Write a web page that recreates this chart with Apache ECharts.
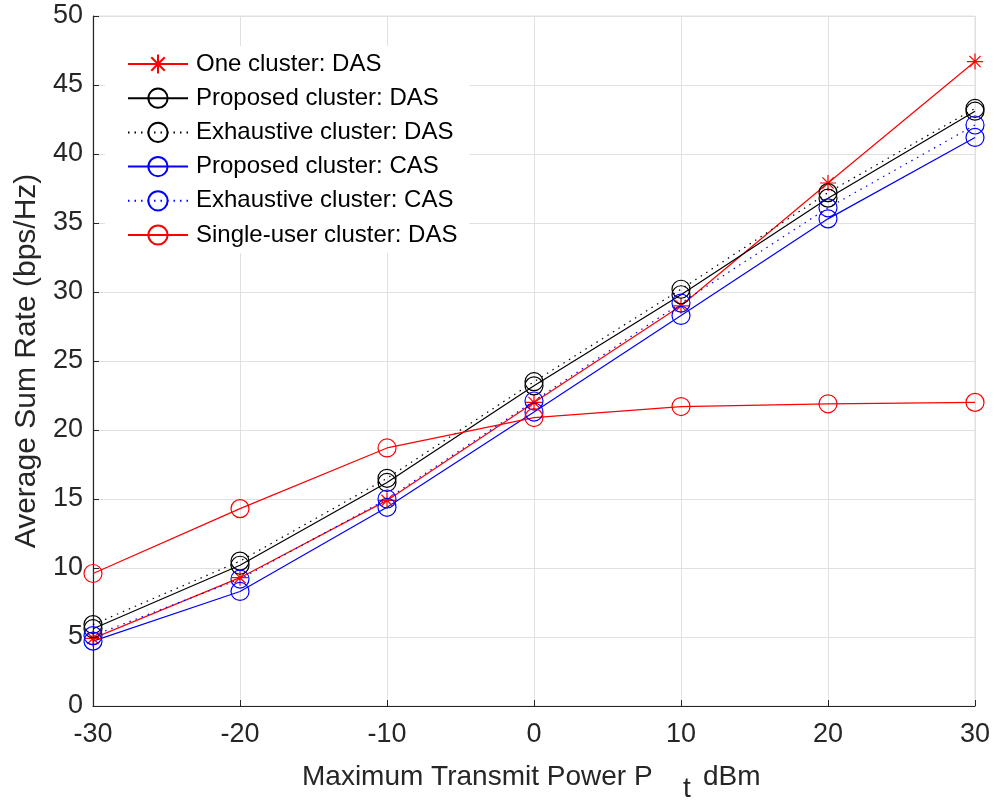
<!DOCTYPE html>
<html>
<head>
<meta charset="utf-8">
<script src="https://cdn.jsdelivr.net/npm/echarts@6/dist/echarts.min.js"></script>
<style>
html,body{margin:0;padding:0;background:#fff;}
#chart{width:994px;height:802px;}
</style>
</head>
<body>
<div id="chart"></div>
<script>
// ---- data ----
var powerDbm = [-30, -20, -10, 0, 10, 20, 30];
var oneClusterDAS = [4.9, 9.3, 14.9, 22.0, 29.0, 37.9, 46.7];
var proposedDAS = [5.6, 10.2, 16.2, 23.2, 29.8, 36.8, 43.1];
var exhaustiveDAS = [5.9, 10.5, 16.5, 23.5, 30.2, 37.2, 43.3];
var proposedCAS = [4.7, 8.3, 14.4, 21.3, 28.3, 35.3, 41.2];
var exhaustiveCAS = [5.1, 9.2, 15.0, 22.1, 29.2, 36.1, 42.1];
var singleUserDAS = [9.6, 14.3, 18.7, 20.9, 21.7, 21.9, 22.0];
var seriesNames = ['One cluster: DAS', 'Proposed cluster: DAS', 'Exhaustive cluster: DAS',
                   'Proposed cluster: CAS', 'Exhaustive cluster: CAS', 'Single-user cluster: DAS'];
var yTicks = [0, 5, 10, 15, 20, 25, 30, 35, 40, 45, 50];
var xTicks = [-30, -20, -10, 0, 10, 20, 30];

// ---- styling ----
var FONT = '"Liberation Sans", Arial, Helvetica, sans-serif';
var TXT = '#262626';
var STAR = 'path://M10,0L10,20M0,10L20,10M3,3L17,17M3,17L17,3';

function pairs(vals) {
  return powerDbm.map(function (x, i) { return [x, vals[i]]; });
}
function mk(name, vals, color, symbol, dashed, size) {
  return {
    name: name,
    type: 'line',
    data: pairs(vals),
    symbol: symbol,
    symbolSize: size,
    showAllSymbol: true,
    lineStyle: { color: color, width: 1.2, type: dashed ? [1.5, 5] : 'solid' },
    itemStyle: { color: 'rgba(0,0,0,0)', borderColor: color, borderWidth: 1.2 },
    emphasis: { disabled: true },
    z: 3
  };
}

var chart = echarts.init(document.getElementById('chart'), null, { renderer: 'canvas' });
chart.setOption({
  animation: false,
  backgroundColor: '#ffffff',
  textStyle: { fontFamily: FONT },
  grid: {
    left: 93, right: 19, top: 16, bottom: 96,
    show: true, borderColor: '#e0e0e0', borderWidth: 1, backgroundColor: 'transparent'
  },
  xAxis: {
    type: 'value',
    min: xTicks[0], max: xTicks[xTicks.length - 1], interval: 10,
    axisLine: { show: true, onZero: false, lineStyle: { color: TXT, width: 1.2 } },
    axisTick: { show: true, inside: true, length: 6, lineStyle: { color: TXT } },
    axisLabel: { color: TXT, fontSize: 27, fontFamily: FONT, margin: 15 },
    splitLine: { show: true, lineStyle: { color: '#e0e0e0', width: 1 } }
  },
  yAxis: {
    type: 'value',
    min: yTicks[0], max: yTicks[yTicks.length - 1], interval: 5,
    axisLine: { show: true, onZero: false, lineStyle: { color: TXT, width: 1.2 } },
    axisTick: { show: true, inside: true, length: 6, lineStyle: { color: TXT } },
    axisLabel: { color: TXT, fontSize: 27, fontFamily: FONT, margin: 10 },
    splitLine: { show: true, lineStyle: { color: '#e0e0e0', width: 1 } }
  },
  legend: {
    orient: 'vertical',
    left: 105, top: 46,
    padding: [6, 12, 6, 22],
    backgroundColor: '#ffffff',
    itemWidth: 60, itemHeight: 24, itemGap: 10.2,
    textStyle: { color: '#000', fontSize: 24, fontFamily: FONT, padding: [0, 0, 0, 3] },
    data: seriesNames,
    selectedMode: false,
    z: 10
  },
  graphic: [
    { type: 'text', x: 302, y: 777, z: 10,
      style: { text: 'Maximum Transmit Power P', fontSize: 28, fontFamily: FONT, fill: TXT, verticalAlign: 'middle' } },
    { type: 'text', x: 683, y: 789, z: 10,
      style: { text: 't', fontSize: 28, fontFamily: FONT, fill: TXT, verticalAlign: 'middle' } },
    { type: 'text', x: 703, y: 777, z: 10,
      style: { text: 'dBm', fontSize: 28, fontFamily: FONT, fill: TXT, verticalAlign: 'middle' } },
    { type: 'text', x: 27, y: 361, rotation: Math.PI / 2, z: 10,
      style: { text: 'Average Sum Rate (bps/Hz)', fontSize: 30, fontFamily: FONT, fill: TXT, align: 'center', verticalAlign: 'middle' } }
  ],
  series: [
    mk(seriesNames[0], oneClusterDAS, '#ff0000', STAR, false, 16),
    mk(seriesNames[1], proposedDAS, '#000000', 'circle', false, 18),
    mk(seriesNames[2], exhaustiveDAS, '#000000', 'circle', true, 18),
    mk(seriesNames[3], proposedCAS, '#0000ff', 'circle', false, 18),
    mk(seriesNames[4], exhaustiveCAS, '#0000ff', 'circle', true, 18),
    mk(seriesNames[5], singleUserDAS, '#ff0000', 'circle', false, 18)
  ]
});
</script>
</body>
</html>
